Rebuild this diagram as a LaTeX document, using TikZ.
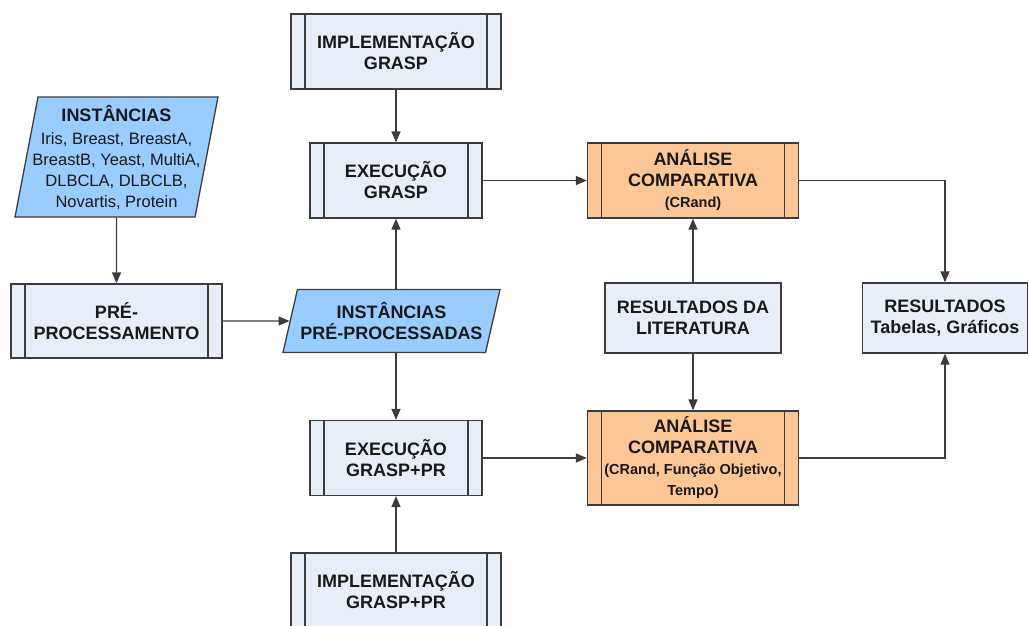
\documentclass[tikz,border=0pt]{standalone}
\usepackage{fontspec}
\setmainfont{Liberation Sans}
\usetikzlibrary{shapes.geometric,arrows.meta}
\definecolor{boxfill}{RGB}{232,238,248}
\definecolor{datafill}{RGB}{153,204,255}
\definecolor{evalfill}{RGB}{252,198,150}
\definecolor{edge}{RGB}{60,60,60}
\definecolor{txt}{RGB}{25,25,25}
\newcommand{\smalltxt}[1]{{\fontsize{14.5}{17}\selectfont #1}}
\newcommand{\listtxt}[1]{{\fontsize{16.5}{18.3}\selectfont\mdseries #1}}

\begin{document}
\begin{tikzpicture}[x=1pt,y=-1pt,
    every node/.style={font=\fontsize{18}{21}\selectfont\bfseries, text=txt, align=center},
    procbox/.style={draw=edge, line width=1.3pt, fill=boxfill, inner sep=0pt,
        path picture={\draw[edge, line width=1.3pt]
            ([xshift=14pt]path picture bounding box.north west) -- ([xshift=14pt]path picture bounding box.south west)
            ([xshift=-14pt]path picture bounding box.north east) -- ([xshift=-14pt]path picture bounding box.south east);}},
    evalbox/.style={procbox, fill=evalfill},
    plainbox/.style={draw=edge, line width=1.3pt, fill=boxfill, inner sep=0pt},
    databox/.style={trapezium, draw=edge, line width=1.3pt, fill=datafill,
        trapezium stretches body, inner ysep=2pt},
    flow/.style={-{Triangle[length=11pt,width=9pt]}, line width=1.3pt, draw=edge}]
    \useasboundingbox (0,0) rectangle (1029,625);

    % Left column
    \node[databox, trapezium left angle=78, trapezium right angle=102, inner xsep=-10pt,
          minimum width=203pt, minimum height=120pt] (inst) at (116.5,157)
          {INSTÂNCIAS\\[2pt]\listtxt{Iris, Breast, BreastA,}\\\listtxt{BreastB, Yeast, MultiA,}\\
           \listtxt{DLBCLA, DLBCLB,}\\\listtxt{Novartis, Protein}};
    \node[procbox, minimum width=211pt, minimum height=74pt] (prep) at (116.5,321) {PRÉ-\\PROCESSAMENTO};

    % Middle column
    \node[procbox, minimum width=210pt, minimum height=75pt] (implg) at (396,51.5) {IMPLEMENTAÇÃO\\GRASP};
    \node[procbox, minimum width=172pt, minimum height=75pt] (execg) at (396,180.5) {EXECUÇÃO\\GRASP};
    \node[databox, trapezium left angle=70.7, trapezium right angle=109.3, inner xsep=-2pt,
          minimum width=217pt, minimum height=63pt] (instp) at (391.5,321) {INSTÂNCIAS\\PRÉ-PROCESSADAS};
    \node[procbox, minimum width=172pt, minimum height=75pt] (execpr) at (396,458) {EXECUÇÃO\\GRASP+PR};
    \node[procbox, minimum width=210pt, minimum height=75pt] (implpr) at (396,590.5) {IMPLEMENTAÇÃO\\GRASP+PR};

    % Right part
    \node[evalbox, minimum width=211pt, minimum height=75pt] (anal1) at (693,180.5)
          {ANÁLISE\\COMPARATIVA\\\smalltxt{(CRand)}};
    \node[plainbox, minimum width=176pt, minimum height=70pt] (lit) at (693,318) {RESULTADOS DA\\LITERATURA};
    \node[evalbox, minimum width=211pt, minimum height=94pt] (anal2) at (693,458)
          {ANÁLISE\\COMPARATIVA\\\smalltxt{(CRand, Função Objetivo,}\\\smalltxt{Tempo)}};
    \node[plainbox, minimum width=165pt, minimum height=70pt] (res) at (945,318) {RESULTADOS\\Tabelas, Gráficos};

    % Connectors
    \draw[flow] (implg) -- (execg);
    \draw[flow] (inst) -- (prep);
    \draw[flow] (prep) -- (instp);
    \draw[flow] (instp.north -| execg) -- (execg);
    \draw[flow] (instp.south -| execpr) -- (execpr);
    \draw[flow] (implpr) -- (execpr);
    \draw[flow] (execg) -- (anal1);
    \draw[flow] (execpr) -- (anal2);
    \draw[flow] (lit) -- (anal1);
    \draw[flow] (lit) -- (anal2);
    \draw[flow] (anal1.east) -| (res.north);
    \draw[flow] (anal2.east) -| (res.south);
\end{tikzpicture}
\end{document}
